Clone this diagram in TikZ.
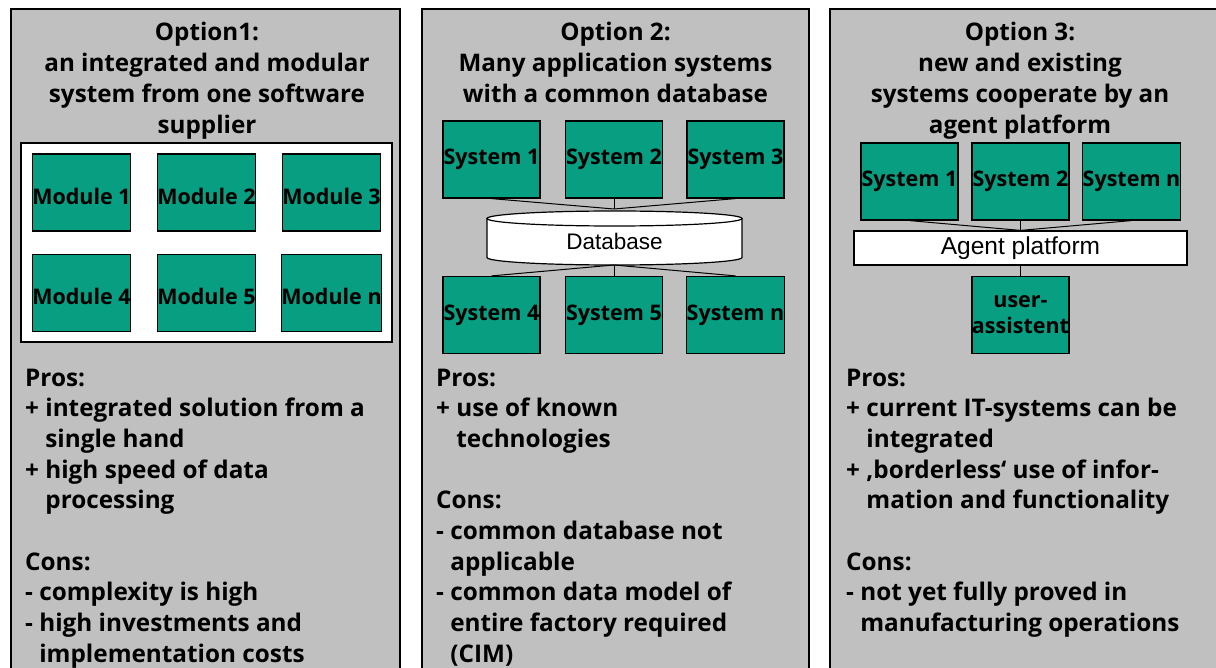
\documentclass[tikz,border=0pt]{standalone}
\usepackage{fontspec}
\setmainfont{Open Sans}
\newfontfamily\arialf{Liberation Sans}
\definecolor{panelgray}{HTML}{C0C0C0}
\definecolor{modgreen}{HTML}{089E82}
\newcommand{\lowr}[1]{\raisebox{-3.5pt}[\height][\depth]{#1}}
\begin{document}
\begin{tikzpicture}[x=1pt,y=-1pt,
  panel/.style={draw=black, line width=1.5pt, fill=panelgray},
  titletxt/.style={anchor=base, inner sep=0pt, font=\bfseries\fontsize{24.2}{30}\selectfont},
  bodytxt/.style={anchor=base west, inner sep=0pt, font=\bfseries\fontsize{24.3}{30}\selectfont},
  modbox/.style={draw=black, line width=1.2pt, fill=modgreen, minimum width=97, minimum height=77, inner sep=0pt, font=\bfseries\fontsize{21.5}{26}\selectfont, align=center},
  link/.style={draw=black, line width=1pt}
]
\clip (0,0) rectangle (1216,668);
\fill[white] (0,0) rectangle (1216,668);
% panels
\draw[panel] (11,9) rectangle (400,700);
\draw[panel] (422,9) rectangle (809,700);
\draw[panel] (830,9) rectangle (1240,700);

% ---------- Panel 1 ----------
\foreach \t [count=\i from 0] in {Option1:, an integrated and modular, system from one software, supplier}
  \node[titletxt] (ta\i) at (207,41+31*\i) {\t};
\node[draw=black, line width=1.2pt, fill=white, minimum width=371, minimum height=199, inner sep=0pt] (frame) at (206.5,242.5) {};
\node[modbox] (m1) at (81.5,192.5) {\lowr{Module 1}};
\node[modbox] (m2) at (206.5,192.5) {\lowr{Module 2}};
\node[modbox] (m3) at (331.5,192.5) {\lowr{Module 3}};
\node[modbox] (m4) at (81.5,293) {\lowr{Module 4}};
\node[modbox] (m5) at (206.5,293) {\lowr{Module 5}};
\node[modbox] (m6) at (331.5,293) {\lowr{Module n}};
\foreach \t [count=\i from 0] in {Pros:, + integrated solution from a, \phantom{+ }single hand, + high speed of data, \phantom{+ }processing}
  \node[bodytxt] (pa\i) at (25,386+30.7*\i) {\t};
\foreach \t [count=\i from 0] in {Cons:, - complexity is high, - high investments and, \phantom{- }implementation costs}
  \node[bodytxt] (ca\i) at (25,570+30.7*\i) {\t};

% ---------- Panel 2 ----------
\foreach \t [count=\i from 0] in {Option 2:, Many application systems, with a common database}
  \node[titletxt] (tb\i) at (615.5,41+31*\i) {\t};
\node[modbox] (s1) at (491.5,159.5) {System 1};
\node[modbox] (s2) at (614,159.5) {System 2};
\node[modbox] (s3) at (735.5,159.5) {System 3};
\node[modbox] (s4) at (491.5,315) {System 4};
\node[modbox] (s5) at (614,315) {System 5};
\node[modbox] (s6) at (735.5,315) {System n};
% database cylinder
\fill[white] (487,218.5) -- (487,257.5) arc[start angle=180, end angle=0, x radius=127.5, y radius=7.5] -- (742,218.5) -- cycle;
\draw[line width=1.2pt] (487,218.5) -- (487,257.5) arc[start angle=180, end angle=0, x radius=127.5, y radius=7.5] -- (742,218.5);
\draw[line width=1.2pt, fill=white] (614.5,218.5) ellipse[x radius=127.5, y radius=7.5];
\node[inner sep=0pt, font=\arialf\fontsize{22.5}{26}\selectfont] (db) at (614.5,241) {Database};
\coordinate (dbtop) at (614,209);
\coordinate (dbbot) at (614,265);
\draw[link] (s1.south) -- (dbtop);
\draw[link] (s2.south) -- (dbtop);
\draw[link] (s3.south) -- (dbtop);
\draw[link] (dbbot) -- (s4.north);
\draw[link] (dbbot) -- (s5.north);
\draw[link] (dbbot) -- (s6.north);
\foreach \t [count=\i from 0] in {Pros:, + use of known, \phantom{+ }technologies}
  \node[bodytxt] (pb\i) at (436,386+30.7*\i) {\t};
\foreach \t [count=\i from 0] in {Cons:, - common database not, \phantom{- }applicable, - common data model of, \phantom{- }entire factory required, \phantom{- }(CIM)}
  \node[bodytxt] (cb\i) at (436,508.8+30.7*\i) {\t};

% ---------- Panel 3 ----------
\foreach \t [count=\i from 0] in {Option 3:, new and existing, systems cooperate by an, agent platform}
  \node[titletxt] (tc\i) at (1020,41+31*\i) {\t};
\node[modbox] (r1) at (909.5,181.5) {System 1};
\node[modbox] (r2) at (1020.5,181.5) {System 2};
\node[modbox] (r3) at (1131.5,181.5) {System n};
\node[draw=black, line width=1.2pt, fill=white, minimum width=333, minimum height=34, inner sep=0pt, font=\arialf\fontsize{24.5}{28}\selectfont] (ap) at (1020.5,248) {Agent platform};
\node[modbox] (ua) at (1020.5,315) {user-\\assistent};
\draw[link] (r1.south) -- (ap.north);
\draw[link] (r2.south) -- (ap.north);
\draw[link] (r3.south) -- (ap.north);
\draw[link] (ap.south) -- (ua.north);
\foreach \t [count=\i from 0] in {Pros:, + current IT-systems can be, \phantom{+ }integrated, + ‚borderless‘ use of infor-, \phantom{+ }mation and functionality}
  \node[bodytxt] (pc\i) at (846,386+30.7*\i) {\t};
\foreach \t [count=\i from 0] in {Cons:, - not yet fully proved in, \phantom{- }manufacturing operations}
  \node[bodytxt] (cc\i) at (846,570+30.7*\i) {\t};
\end{tikzpicture}
\end{document}
